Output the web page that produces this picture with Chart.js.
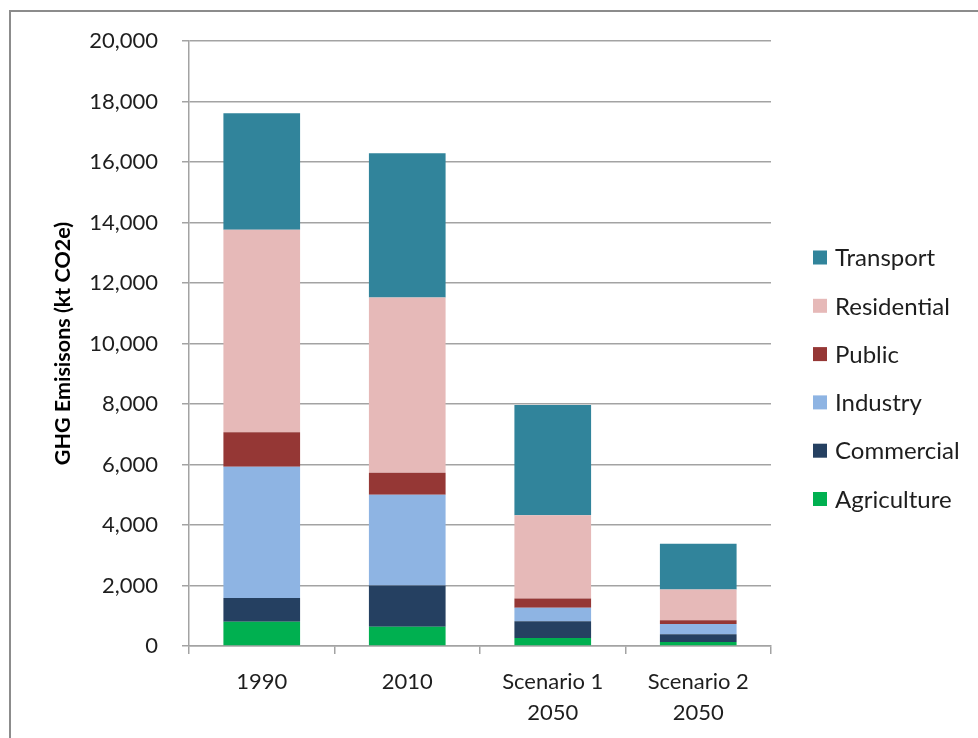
<!DOCTYPE html>
<html>
<head>
<meta charset="utf-8">
<script src="https://cdn.jsdelivr.net/npm/chart.js@4.4.1/dist/chart.umd.min.js"></script>
<style>
  html, body { margin: 0; padding: 0; background: #ffffff; }
  #wrap { width: 978px; height: 738px; position: relative; }
</style>
</head>
<body>
<div id="wrap"><canvas id="chart" width="978" height="738"></canvas></div>
<script>
// Categories (multi-line labels for the scenario columns)
const categories = ['1990', '2010', ['Scenario 1', '2050'], ['Scenario 2', '2050']];

// Emissions by sector, kt CO2e
const agriculture = [800, 640, 265, 130];
const commercial  = [790, 1360, 550, 255];
const industry    = [4335, 3000, 450, 340];
const publicSector = [1145, 725, 305, 130];
const residential = [6690, 5795, 2750, 1010];
const transport   = [3850, 4770, 3650, 1515];

const yTicks = [0, 2000, 4000, 6000, 8000, 10000, 12000, 14000, 16000, 18000, 20000];

const FONT = 'Lato';
const TEXT = '#1e1e1e';
const GRID = '#a3a3a3';

// Outer frame around the figure
const framePlugin = {
  id: 'frame',
  beforeDraw(chart) {
    const ctx = chart.ctx;
    ctx.save();
    ctx.strokeStyle = '#8c8c8c';
    ctx.lineWidth = 2;
    ctx.beginPath();
    ctx.moveTo(10, chart.height);
    ctx.lineTo(10, 11);
    ctx.lineTo(chart.width, 11);
    ctx.stroke();
    ctx.restore();
  }
};

// Legend on the right, top sector first
const sideLegend = {
  id: 'sideLegend',
  afterDraw(chart) {
    const ctx = chart.ctx;
    const sets = chart.data.datasets.slice().reverse();
    ctx.save();
    ctx.font = '24px ' + FONT;
    ctx.textBaseline = 'middle';
    ctx.textAlign = 'left';
    sets.forEach((ds, i) => {
      const cy = 257.5 + i * 48.3;
      ctx.fillStyle = ds.backgroundColor;
      ctx.fillRect(813, cy - 7, 14, 14);
      ctx.fillStyle = TEXT;
      ctx.fillText(ds.label, 835, cy + 1);
    });
    ctx.restore();
  }
};

const mk = (label, data, color) => ({
  label, data, backgroundColor: color, borderWidth: 0,
  categoryPercentage: 1.0, barPercentage: 0.527
});

new Chart(document.getElementById('chart'), {
  type: 'bar',
  data: {
    labels: categories,
    datasets: [
      mk('Agriculture', agriculture, '#00B050'),
      mk('Commercial', commercial, '#254061'),
      mk('Industry', industry, '#8EB4E3'),
      mk('Public', publicSector, '#953735'),
      mk('Residential', residential, '#E6B9B8'),
      mk('Transport', transport, '#31849B')
    ]
  },
  options: {
    responsive: false,
    animation: false,
    devicePixelRatio: 1,
    layout: { padding: { left: 0, right: 207, top: 41, bottom: 0 } },
    plugins: {
      legend: { display: false },
      tooltip: { enabled: false },
      title: { display: false }
    },
    scales: {
      x: {
        stacked: true,
        afterFit(scale) { scale.height = 92; },
        grid: { offset: true, drawOnChartArea: false, tickLength: 8, color: GRID, lineWidth: 1.5 },
        border: { display: true, color: GRID, width: 1.5 },
        ticks: {
          color: TEXT,
          padding: 12,
          font: { family: FONT, size: 22, lineHeight: 1.41 },
          maxRotation: 0
        }
      },
      y: {
        stacked: true,
        min: 0,
        max: 20000,
        afterFit(scale) { scale.width = 189; },
        afterBuildTicks(scale) { scale.ticks = yTicks.map(v => ({ value: v })); },
        grid: { color: GRID, lineWidth: 1.5, tickLength: 7 },
        border: { display: true, color: GRID, width: 1.5 },
        ticks: {
          color: TEXT,
          padding: 24,
          font: { family: FONT, size: 22 },
          callback: v => v.toLocaleString('en-US')
        },
        title: {
          display: true,
          text: 'GHG Emisisons (kt CO2e)',
          color: '#000000',
          font: { family: FONT, size: 21.5, weight: 'bold', lineHeight: 1.2 },
          padding: { top: 50, bottom: 0 }
        }
      }
    }
  },
  plugins: [framePlugin, sideLegend]
});
</script>
</body>
</html>
